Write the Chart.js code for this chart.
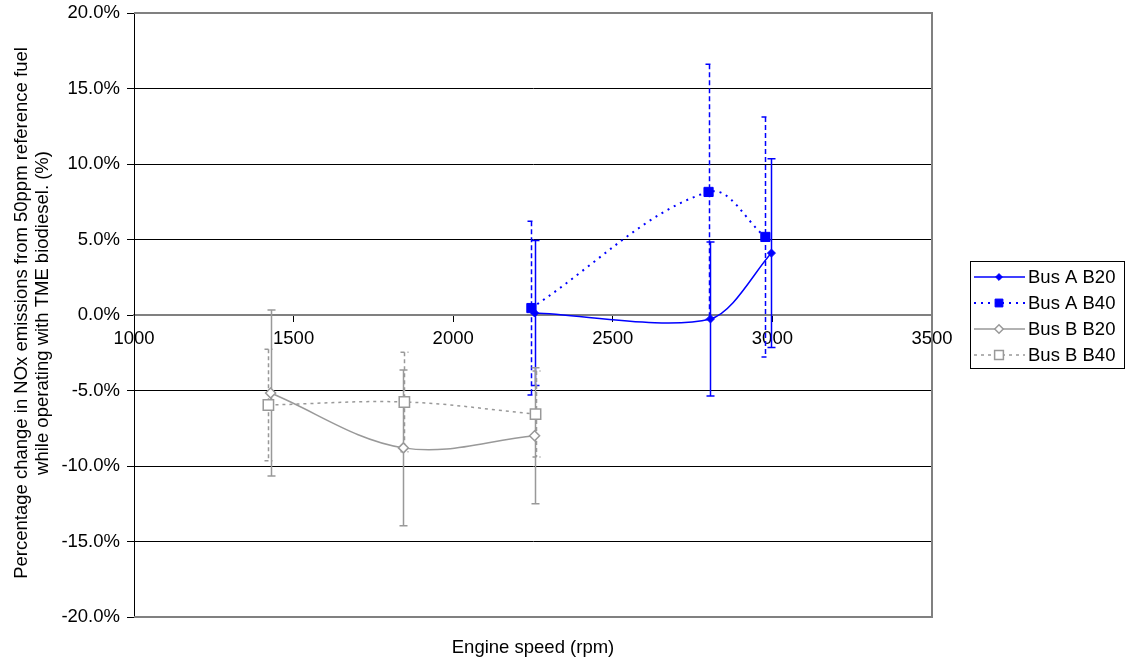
<!DOCTYPE html>
<html>
<head>
<meta charset="utf-8">
<style>
  html, body { margin: 0; padding: 0; background: #fff; }
  #wrap { width: 1127px; height: 661px; position: relative; }
</style>
<script src="https://cdn.jsdelivr.net/npm/chart.js@4/dist/chart.umd.min.js"></script>
</head>
<body>
<div id="wrap"><canvas id="c" width="1127" height="661"></canvas></div>
<script>
// Engine speed (rpm) and NOx change (%) with error half-widths (%)
const busAB20Speed = [2255, 2806, 2997];
const busAB20Change = [0.13, -0.26, 4.1];
const busAB20Err = [4.8, 5.1, 6.25];

const busAB40Speed = [2245, 2800, 2978];
const busAB40Change = [0.46, 8.15, 5.17];
const busAB40Err = [5.75, 8.45, 7.95];

const busBB20Speed = [1428, 1844, 2255];
const busBB20Change = [-5.17, -8.8, -8.0];
const busBB20Err = [5.5, 5.15, 4.5];

const busBB40Speed = [1421, 1847, 2258];
const busBB40Change = [-5.96, -5.76, -6.56];
const busBB40Err = [3.7, 3.3, 2.85];

const seriesNames = ['Bus A B20', 'Bus A B40', 'Bus B B20', 'Bus B B40'];
const xTicks = [1000, 1500, 2000, 2500, 3000, 3500];
const yTicks = [-20, -15, -10, -5, 0, 5, 10, 15, 20];

const yTitleLines = ['Percentage change in NOx emissions from 50ppm reference fuel',
                     'while operating with TME biodiesel. (%)'];
const xTitle = 'Engine speed (rpm)';

const BLUE = '#0000ff';
const GREY = '#999999';
const FONT = '"Liberation Sans", Arial, sans-serif';
const FSIZE = 18.5;

function pts(xs, ys) { return xs.map((x, i) => ({ x: x, y: ys[i] })); }

const datasets = [
  { label: seriesNames[0], data: pts(busAB20Speed, busAB20Change), err: busAB20Err,
    borderColor: BLUE, backgroundColor: BLUE, borderWidth: 1.5, borderDash: [], tension: 0.28,
    pointStyle: 'rectRot', pointRadius: 4, pointBorderWidth: 1, errDash: [] },
  { label: seriesNames[1], data: pts(busAB40Speed, busAB40Change), err: busAB40Err,
    borderColor: BLUE, backgroundColor: BLUE, borderWidth: 2, borderDash: [2, 5], tension: 0.36,
    pointStyle: 'rect', pointRadius: 6.5, pointBorderWidth: 1, errDash: [5, 3] },
  { label: seriesNames[2], data: pts(busBB20Speed, busBB20Change), err: busBB20Err,
    borderColor: GREY, backgroundColor: '#ffffff', borderWidth: 1.5, borderDash: [], tension: 0.36,
    pointStyle: 'rectRot', pointRadius: 5, pointBorderWidth: 1.5, errDash: [] },
  { label: seriesNames[3], data: pts(busBB40Speed, busBB40Change), err: busBB40Err,
    borderColor: GREY, backgroundColor: '#ffffff', borderWidth: 1.5, borderDash: [3, 4], tension: 0.36,
    pointStyle: 'rect', pointRadius: 7.3, pointBorderWidth: 1.5, errDash: [4, 3] }
].map(d => Object.assign(d, {
  showLine: true, fill: false,
  pointBorderColor: d.borderColor, pointBackgroundColor: d.backgroundColor
}));

// vertical error bars with short caps
const errorBars = {
  id: 'errorBars',
  beforeDatasetsDraw(chart) {
    const ctx = chart.ctx, ys = chart.scales.y, xs = chart.scales.x;
    chart.data.datasets.forEach(ds => {
      ctx.save();
      ctx.strokeStyle = ds.borderColor;
      ctx.lineWidth = 1.5;
      ctx.setLineDash(ds.errDash);
      ds.data.forEach((p, i) => {
        const px = Math.round(xs.getPixelForValue(p.x)) + 0.5;
        const top = ys.getPixelForValue(p.y + ds.err[i]);
        const bot = ys.getPixelForValue(p.y - ds.err[i]);
        ctx.beginPath();
        ctx.moveTo(px, top); ctx.lineTo(px, bot);
        ctx.moveTo(px - 4, top); ctx.lineTo(px + 4, top);
        ctx.moveTo(px - 4, bot); ctx.lineTo(px + 4, bot);
        ctx.stroke();
      });
      ctx.restore();
    });
  }
};

// plot frame, axis titles and legend box
const decorations = {
  id: 'decorations',
  beforeDatasetsDraw(chart) {
    const ctx = chart.ctx, a = chart.chartArea;
    ctx.save();
    ctx.strokeStyle = '#808080';
    ctx.lineWidth = 2;
    ctx.beginPath();
    ctx.moveTo(a.left, a.top); ctx.lineTo(a.right, a.top);
    ctx.lineTo(a.right, a.bottom); ctx.lineTo(a.left, a.bottom);
    ctx.stroke();
    ctx.restore();
  },
  afterDraw(chart) {
    const ctx = chart.ctx, a = chart.chartArea;
    ctx.save();
    ctx.fillStyle = '#000';
    ctx.font = FSIZE + 'px ' + FONT;
    ctx.textAlign = 'center';
    ctx.textBaseline = 'middle';
    ctx.fillText(xTitle, (a.left + a.right) / 2, 648);
    ctx.translate(0, 313);
    ctx.rotate(-Math.PI / 2);
    ctx.fillText(yTitleLines[0], 0, 22);
    ctx.fillText(yTitleLines[1], 0, 43);
    ctx.restore();

    // legend
    const bx = 970, by = 261, bw = 154, bh = 107;
    ctx.save();
    ctx.fillStyle = '#fff';
    ctx.fillRect(bx, by, bw, bh);
    ctx.strokeStyle = '#000';
    ctx.lineWidth = 1;
    ctx.strokeRect(bx + 0.5, by + 0.5, bw, bh);
    chart.data.datasets.forEach((ds, i) => {
      const ry = by + 16 + i * 26;
      ctx.save();
      ctx.strokeStyle = ds.borderColor;
      ctx.lineWidth = ds.borderWidth;
      ctx.setLineDash(ds.borderDash);
      ctx.beginPath();
      ctx.moveTo(974, ry); ctx.lineTo(1025, ry);
      ctx.stroke();
      ctx.setLineDash([]);
      ctx.fillStyle = ds.backgroundColor;
      ctx.lineWidth = ds.pointBorderWidth;
      Chart.helpers.drawPoint(ctx, {
        pointStyle: ds.pointStyle, radius: ds.pointRadius * 0.85, rotation: 0,
        borderWidth: ds.pointBorderWidth
      }, 999, ry);
      ctx.restore();
      ctx.fillStyle = '#000';
      ctx.font = FSIZE + 'px ' + FONT;
      ctx.textAlign = 'left';
      ctx.textBaseline = 'middle';
      ctx.fillText(ds.label, 1028, ry + 1);
    });
    ctx.restore();
  }
};

new Chart(document.getElementById('c'), {
  type: 'scatter',
  data: { datasets: datasets },
  plugins: [errorBars, decorations],
  options: {
    responsive: false,
    animation: false,
    devicePixelRatio: 1,
    layout: { autoPadding: false, padding: { top: 13, right: 195, bottom: 44, left: 0 } },
    plugins: { legend: { display: false }, tooltip: { enabled: false } },
    scales: {
      x: {
        type: 'linear',
        position: { y: 0 },
        min: xTicks[0], max: xTicks[xTicks.length - 1],
        afterBuildTicks(scale) { scale.ticks = xTicks.map(v => ({ value: v })); },
        grid: { drawOnChartArea: false, drawTicks: true, tickLength: 6, color: '#000', lineWidth: 1 },
        border: { display: true, color: '#808080', width: 2 },
        ticks: { color: '#000', font: { size: FSIZE, family: FONT }, padding: 7, maxRotation: 0,
                 callback: v => String(v) }
      },
      y: {
        type: 'linear',
        min: yTicks[0], max: yTicks[yTicks.length - 1],
        afterBuildTicks(scale) { scale.ticks = yTicks.map(v => ({ value: v })); },
        afterFit(scale) { scale.width = 134; scale.paddingTop = 0; scale.paddingBottom = 0; },
        grid: { color: '#000', lineWidth: 1, tickLength: 7, drawTicks: true },
        border: { display: true, color: '#000', width: 1 },
        ticks: { color: '#000', font: { size: FSIZE, family: FONT }, padding: 7,
                 callback: v => v.toFixed(1) + '%' }
      }
    }
  }
});
</script>
</body>
</html>
